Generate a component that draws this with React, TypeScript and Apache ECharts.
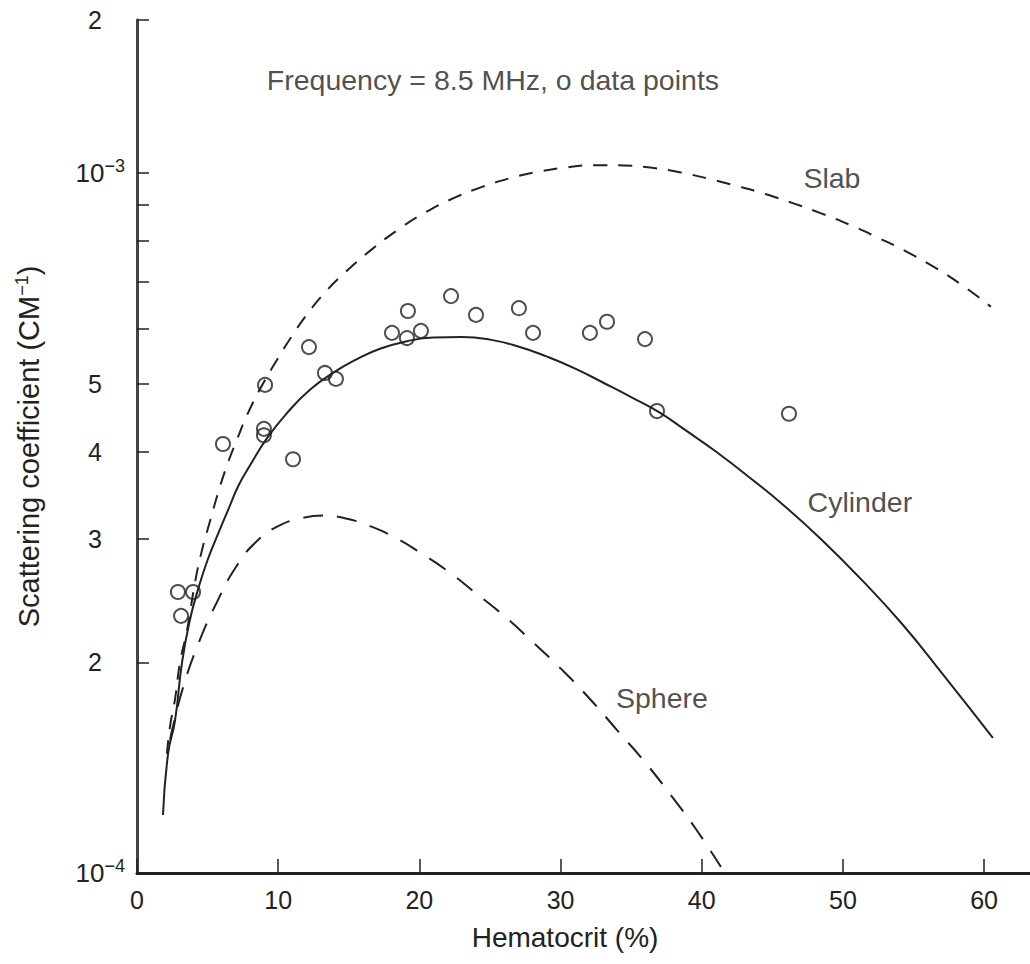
import React, { useEffect, useRef } from "react";
import * as echarts from "echarts";

// Hematocrit (%) and scattering coefficient (cm^-1) pairs
const measuredPoints: [number, number][] = [
  [2.9, 2.52e-4], [3.12, 2.33e-4], [3.97, 2.52e-4], [6.09, 4.1e-4],
  [9.07, 4.98e-4], [8.99, 4.31e-4], [8.99, 4.22e-4], [11.05, 3.9e-4],
  [12.18, 5.64e-4], [13.31, 5.18e-4], [14.09, 5.08e-4], [18.06, 5.91e-4],
  [19.19, 6.35e-4], [19.12, 5.81e-4], [20.11, 5.95e-4], [22.24, 6.67e-4],
  [24.01, 6.27e-4], [27.05, 6.41e-4], [28.05, 5.91e-4], [32.08, 5.91e-4],
  [33.29, 6.13e-4], [35.98, 5.79e-4], [36.83, 4.57e-4], [46.18, 4.53e-4],
];

const cylinderCurve: [number, number][] = [
  [1.84, 1.21e-4], [2.2, 1.48e-4], [2.69, 1.65e-4], [3.19, 2.0e-4],
  [3.75, 2.3e-4], [4.32, 2.54e-4], [5.0, 2.8e-4], [5.74, 3.05e-4],
  [6.45, 3.3e-4], [7.2, 3.58e-4], [8.0, 3.82e-4], [9.21, 4.18e-4],
  [10.62, 4.54e-4], [12.25, 4.9e-4], [13.88, 5.18e-4], [15.58, 5.42e-4],
  [17.21, 5.61e-4], [19.12, 5.75e-4], [21.0, 5.82e-4], [23.0, 5.83e-4],
  [25.0, 5.78e-4], [27.0, 5.65e-4], [29.0, 5.47e-4], [31.0, 5.26e-4],
  [33.0, 5.02e-4], [35.13, 4.77e-4], [37.0, 4.55e-4], [39.0, 4.27e-4],
  [41.0, 4.0e-4], [43.41, 3.67e-4], [45.96, 3.33e-4], [48.51, 2.99e-4],
  [51.35, 2.62e-4], [54.18, 2.27e-4], [57.01, 1.93e-4], [60.62, 1.56e-4],
];

const slabCurve: [number, number][] = [
  [2.12, 1.48e-4], [2.34, 1.62e-4], [2.69, 1.77e-4], [3.05, 2.0e-4],
  [3.54, 2.22e-4], [4.11, 2.6e-4], [4.6, 2.89e-4], [5.17, 3.18e-4],
  [5.74, 3.49e-4], [6.37, 3.82e-4], [7.08, 4.16e-4], [7.86, 4.54e-4],
  [8.85, 4.97e-4], [9.92, 5.41e-4], [10.98, 5.85e-4], [12.04, 6.28e-4],
  [13.31, 6.75e-4], [14.87, 7.25e-4], [16.5, 7.74e-4], [18.5, 8.3e-4],
  [20.5, 8.8e-4], [22.5, 9.22e-4], [24.5, 9.56e-4], [26.5, 9.84e-4],
  [28.5, 10.05e-4], [30.5, 10.19e-4], [32.5, 10.26e-4], [34.5, 10.25e-4],
  [36.5, 10.17e-4], [38.5, 10.02e-4], [40.5, 9.81e-4], [42.5, 9.58e-4],
  [44.5, 9.33e-4], [46.5, 9.05e-4], [48.5, 8.75e-4], [50.5, 8.43e-4],
  [52.5, 8.08e-4], [54.5, 7.72e-4], [56.5, 7.33e-4], [58.5, 6.9e-4],
  [60.48, 6.44e-4],
];

const sphereCurve: [number, number][] = [
  [2.34, 1.55e-4], [2.55, 1.62e-4], [3.26, 1.84e-4], [4.32, 2.12e-4],
  [5.67, 2.44e-4], [7.08, 2.75e-4], [8.5, 2.98e-4], [10.0, 3.13e-4],
  [11.6, 3.21e-4], [13.2, 3.24e-4], [14.8, 3.21e-4], [16.5, 3.13e-4],
  [18.2, 3.02e-4], [20.04, 2.87e-4], [22.0, 2.7e-4], [24.0, 2.51e-4],
  [26.0, 2.33e-4], [28.0, 2.14e-4], [30.0, 1.96e-4], [32.0, 1.78e-4],
  [34.0, 1.6e-4], [35.98, 1.44e-4], [37.96, 1.28e-4], [39.66, 1.15e-4],
  [41.36, 1.02e-4],
];

// Curve names and where their captions sit (data coordinates)
const curveCaptions: { name: string; at: [number, number] }[] = [
  { name: "Slab", at: [49.22, 9.84e-4] },
  { name: "Cylinder", at: [51.2, 3.39e-4] },
  { name: "Sphere", at: [37.18, 1.78e-4] },
];
const noteText = "Frequency = 8.5 MHz, o data points";
const noteAt: [number, number] = [25.21, 1.358e-3];

// Axes
const X_MIN = 0;
const X_MAX = 63.25;
const xTicks = [0, 10, 20, 30, 40, 50, 60];
const Y_MIN = 1e-4;
const Y_TOP = 1.654e-3;
const yMinorTicks = [1e-4, 2e-4, 3e-4, 4e-4, 5e-4, 6e-4, 7e-4, 8e-4, 9e-4, 1e-3, Y_TOP];
const yLabelValues = [1e-4, 2e-4, 3e-4, 4e-4, 5e-4, 1e-3, Y_TOP];
const yLabelTexts = ["10^-4", "2", "3", "4", "5", "10^-3", "2"];

const FONT = "'Liberation Sans', Arial, Helvetica, sans-serif";
const INK = "#222";

const toLog = (pts: [number, number][]) => pts.map(([x, y]) => [x, Math.log10(y)]);

function formatYLabel(v: number): string {
  const i = yLabelValues.findIndex((t) => Math.abs(Math.log10(t) - v) < 1e-6);
  if (i < 0) return "";
  const t = yLabelTexts[i];
  if (t.startsWith("10^")) return `{b|10}{s|${t.slice(3).replace("-", "\u2212")}}`;
  return `{d|${t}}`;
}

export default function App() {
  const ref = useRef<HTMLDivElement>(null);

  useEffect(() => {
    document.body.style.margin = "0";
    if (!ref.current) return;
    const chart = echarts.init(ref.current, undefined, { renderer: "svg" });

    const curve = (name: string, pts: [number, number][], dash: number[] | "solid") => ({
      name,
      type: "line",
      data: toLog(pts),
      showSymbol: false,
      smooth: 0.5,
      lineStyle: { color: INK, width: 2, type: dash },
      z: 2,
    });

    chart.setOption({
      animation: false,
      backgroundColor: "#fff",
      grid: { left: 137, right: 0, top: 20, bottom: 91, containLabel: false, outerBoundsMode: "none" },
      xAxis: {
        type: "value",
        min: X_MIN,
        max: X_MAX,
        interval: 10,
        name: "Hematocrit (%)",
        nameLocation: "middle",
        nameGap: 50,
        nameTextStyle: { fontFamily: FONT, fontSize: 28, color: INK, padding: [0, 37, 0, 0] },
        axisLine: { lineStyle: { color: INK, width: 3 } },
        axisTick: { inside: true, length: 14, lineStyle: { color: INK, width: 1.5 }, customValues: xTicks },
        axisLabel: { fontFamily: FONT, fontSize: 25, color: INK, margin: 14, customValues: xTicks },
        splitLine: { show: false },
      },
      yAxis: {
        type: "value",
        min: Math.log10(Y_MIN),
        max: Math.log10(Y_TOP),
        name: "Scattering coefficient (CM{sup|\u22121})",
        nameLocation: "middle",
        nameRotate: 90,
        nameGap: 93,
        nameTextStyle: {
          fontFamily: FONT,
          fontSize: 29,
          color: INK,
          rich: { sup: { fontFamily: FONT, fontSize: 18, color: INK, padding: [0, 0, 13, 0] } },
        },
        axisLine: { show: true, lineStyle: { color: "#444", width: 3 } },
        axisTick: {
          inside: true,
          length: 12,
          lineStyle: { color: INK, width: 1.5 },
          customValues: yMinorTicks.map((v) => Math.log10(v)),
        },
        axisLabel: {
          margin: 12,
          align: "right",
          customValues: yLabelValues.map((v) => Math.log10(v)),
          formatter: formatYLabel,
          rich: {
            b: { fontFamily: FONT, fontSize: 26, color: INK },
            s: { fontFamily: FONT, fontSize: 18, color: INK, padding: [0, 0, 14, 0] },
            d: { fontFamily: FONT, fontSize: 25, color: INK, padding: [0, 23, 0, 0] },
          },
        },
        splitLine: { show: false },
      },
      series: [
        curve("Slab", slabCurve, [14, 11]),
        curve("Sphere", sphereCurve, [20, 14]),
        curve("Cylinder", cylinderCurve, "solid"),
        {
          name: "Data points",
          type: "scatter",
          data: toLog(measuredPoints),
          symbol: "circle",
          symbolSize: 14,
          itemStyle: { color: "rgba(255,255,255,0)", borderColor: INK, borderWidth: 2 },
          z: 3,
        },
        {
          name: "Captions",
          type: "scatter",
          data: [
            ...curveCaptions.map((c) => ({ name: c.name, value: [c.at[0], Math.log10(c.at[1])] })),
            { name: noteText, value: [noteAt[0], Math.log10(noteAt[1])] },
          ],
          symbolSize: 1,
          itemStyle: { color: "rgba(0,0,0,0)" },
          label: {
            show: true,
            position: "inside",
            formatter: "{b}",
            fontFamily: FONT,
            fontSize: 28.5,
            color: INK,
          },
          silent: true,
          z: 4,
        },
      ],
    });

    return () => chart.dispose();
  }, []);

  return <div ref={ref} style={{ width: 1030, height: 964 }} />;
}
